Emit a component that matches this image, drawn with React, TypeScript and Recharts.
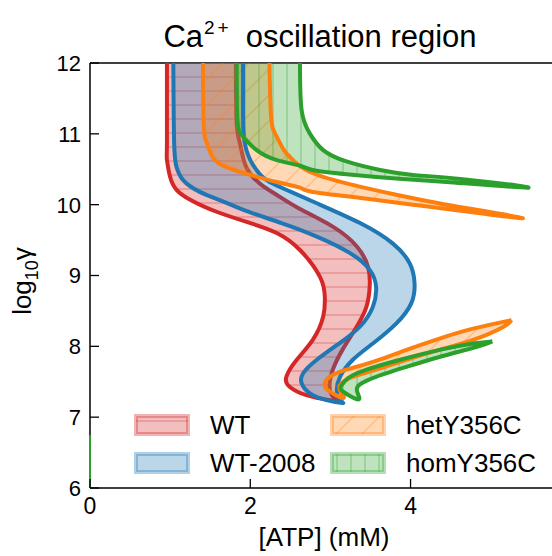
import { ScatterChart, Scatter, XAxis, YAxis, ReferenceLine, Legend } from "recharts";

const FONT = '"Liberation Sans", Arial, Helvetica, sans-serif';
const RED = "#d62728";
const BLUE = "#1f77b4";
const ORANGE = "#ff7f0e";
const GREEN = "#2ca02c";

// WT boundary: left branch from the top down to the cusp, then right branch back up
const wtX = [0.96, 0.96, 0.96, 1.0, 1.08, 1.25, 1.58, 2.0, 2.33, 2.62, 2.87, 2.93, 2.91, 2.78, 2.58, 2.45, 2.49, 2.7, 2.99, 3.14,
  3.05, 2.99, 3.03, 3.15, 3.33, 3.45, 3.49, 3.47, 3.33, 3.03, 2.62, 2.37, 2.14, 1.95, 1.87, 1.83, 1.82];
const wtY = [12.0, 10.87, 10.63, 10.39, 10.21, 10.07, 9.9, 9.74, 9.6, 9.36, 8.98, 8.7, 8.42, 8.09, 7.81, 7.57, 7.43, 7.31, 7.24, 7.22,
  7.27, 7.43, 7.67, 7.95, 8.28, 8.56, 8.84, 9.12, 9.41, 9.69, 9.94, 10.11, 10.28, 10.53, 10.87, 11.15, 12.0];

// WT-2008 boundary
const wt08X = [1.04, 1.05, 1.08, 1.16, 1.37, 1.65, 1.93, 2.39, 2.83, 3.24, 3.49, 3.57, 3.53, 3.37, 3.12, 2.83, 2.66, 2.64, 2.74, 2.95, 3.15,
  3.12, 3.08, 3.12, 3.28, 3.53, 3.82, 4.01, 4.05, 3.99, 3.78, 3.37, 2.83, 2.49, 2.24, 2.12, 2.0, 1.92, 1.91, 1.91];
const wt08Y = [12.0, 10.87, 10.53, 10.35, 10.18, 10.05, 9.92, 9.74, 9.55, 9.32, 9.08, 8.84, 8.56, 8.28, 8.05, 7.81, 7.62, 7.48, 7.34, 7.24, 7.2,
  7.24, 7.38, 7.57, 7.81, 8.04, 8.32, 8.61, 8.89, 9.17, 9.45, 9.74, 10.02, 10.19, 10.32, 10.43, 10.63, 10.96, 11.48, 12.0];

// hetY356C: upper tongue and lower tongue
const hetUpX = [1.41, 1.42, 1.46, 1.53, 1.7, 2.0, 2.33, 2.62, 2.78, 3.41, 4.03, 4.65, 5.4,
  4.45, 3.82, 3.2, 2.7, 2.49, 2.42, 2.32, 2.26, 2.24];
const hetUpY = [12.0, 11.1, 10.87, 10.67, 10.53, 10.42, 10.32, 10.24, 10.18, 10.09, 10.0, 9.91, 9.81,
  10.0, 10.14, 10.3, 10.49, 10.68, 10.77, 10.98, 11.24, 12.0];
const hetLowX = [5.26, 4.78, 4.36, 3.95, 3.53, 3.2, 2.99, 2.93, 2.97, 3.16, 3.12, 3.14, 3.28, 3.57, 3.95, 4.36, 4.78, 5.15, 5.26];
const hetLowY = [8.37, 8.25, 8.11, 7.95, 7.78, 7.67, 7.57, 7.48, 7.38, 7.27, 7.38, 7.48, 7.57, 7.67, 7.81, 7.95, 8.09, 8.27, 8.37];

// homY356C: upper tongue, lower tongue, and the sliver on the axis
const homUpX = [1.83, 1.84, 1.91, 2.08, 2.33, 2.62, 2.78, 3.2, 3.82, 4.45, 5.47,
  4.65, 4.03, 3.62, 3.2, 2.91, 2.74, 2.64, 2.62];
const homUpY = [12.0, 11.2, 10.96, 10.77, 10.63, 10.55, 10.49, 10.43, 10.37, 10.32, 10.24,
  10.36, 10.42, 10.49, 10.61, 10.77, 11.01, 11.34, 12.0];
const homLowX = [5.02, 4.78, 4.36, 3.87, 3.45, 3.22, 3.14, 3.16, 3.35, 3.33, 3.39, 3.57, 3.95, 4.36, 4.82, 5.02];
const homLowY = [8.07, 8.04, 7.95, 7.81, 7.67, 7.55, 7.45, 7.36, 7.25, 7.38, 7.48, 7.57, 7.71, 7.85, 7.99, 8.07];
const homAxisX = [0, 0];
const homAxisY = [6, 6.75];

const xTicks = [0, 2, 4];
const yTicks = [6, 7, 8, 9, 10, 11, 12];

const legendItems = [
  { name: "WT", color: RED, fill: "url(#hatchWT)" },
  { name: "WT-2008", color: BLUE, fill: "url(#hatchWT08)" },
  { name: "hetY356C", color: ORANGE, fill: "url(#hatchHet)" },
  { name: "homY356C", color: GREEN, fill: "url(#hatchHom)" },
];

const toPoints = (xs: number[], ys: number[]) => xs.map((x, i) => ({ x, y: ys[i] }));

const wt = toPoints(wtX, wtY);
const wt08 = toPoints(wt08X, wt08Y);
const hetUp = toPoints(hetUpX, hetUpY);
const hetLow = toPoints(hetLowX, hetLowY);
const homUp = toPoints(homUpX, homUpY);
const homLow = toPoints(homLowX, homLowY);
const homAxis = toPoints(homAxisX, homAxisY);

const noDot = () => <g />;
const CURVE = "natural" as const;

const XTick = ({ x, y, payload }: any) => (
  <g>
    <line x1={x} x2={x} y1={y} y2={y - 9} stroke="#000" strokeWidth={1.3} />
    <text x={x} y={y + 26} textAnchor="middle" fontSize={23} fontFamily={FONT} fill="#000">
      {payload.value}
    </text>
  </g>
);

const YTick = ({ x, y, payload }: any) => (
  <g>
    <line x1={x} x2={x + 9} y1={y} y2={y} stroke="#000" strokeWidth={1.3} />
    <text x={x - 9} y={y} dy="0.36em" textAnchor="end" fontSize={22} fontFamily={FONT} fill="#000">
      {payload.value}
    </text>
  </g>
);

const fillLine = (fill: string) => ({ fill, stroke: "none" });
const edgeLine = (stroke: string) => ({ fill: "none", stroke, strokeWidth: 4, strokeLinejoin: "round" as const });

function LegendBox() {
  return (
    <div
      style={{
        display: "grid",
        gridTemplateColumns: "196px 200px",
        gridTemplateRows: "38px 38px",
        gridAutoFlow: "column",
        fontFamily: FONT,
        fontSize: 26,
        lineHeight: "30px",
      }}
    >
      {legendItems.map((item) => (
        <div key={item.name} style={{ display: "flex", alignItems: "center", whiteSpace: "nowrap" }}>
          <svg width={56} height={22} style={{ marginRight: 20, flex: "none" }}>
            <rect x={2} y={2} width={52} height={18} fill={item.fill} stroke={item.color} strokeOpacity={0.35} strokeWidth={4} />
          </svg>
          <span>{item.name}</span>
        </div>
      ))}
    </div>
  );
}

export default function App() {
  return (
    <div style={{ position: "absolute", left: 0, top: 0, width: 552, height: 556, overflow: "hidden", background: "#fff" }}>
      <div
        style={{
          position: "absolute",
          left: -4,
          top: 20,
          width: 648,
          textAlign: "center",
          fontFamily: FONT,
          fontSize: 31,
          lineHeight: "34px",
          whiteSpace: "nowrap",
        }}
      >
        Ca
        <span style={{ fontSize: 19, position: "relative", top: -13, marginLeft: 1, marginRight: 14, letterSpacing: 3 }}>2+</span>
        oscillation region
      </div>
      <div
        style={{
          position: "absolute",
          left: 25,
          top: 281,
          transform: "translate(-50%, -50%) rotate(-90deg)",
          fontFamily: FONT,
          fontSize: 26,
          whiteSpace: "nowrap",
        }}
      >
        log<sub style={{ fontSize: 18 }}>10</sub>γ
      </div>
      <div style={{ position: "absolute", left: 0, top: 0 }}>
        <ScatterChart width={600} height={556} margin={{ top: 63, right: 42, bottom: 8, left: 30 }}>
          <defs>
            <pattern id="hatchWT" patternUnits="userSpaceOnUse" width={14} height={14}>
              <rect width={14} height={14} fill={RED} fillOpacity={0.3} />
              <line x1={0} x2={14} y1={7} y2={7} stroke={RED} strokeOpacity={0.3} strokeWidth={1.5} />
            </pattern>
            <pattern id="hatchWT08" patternUnits="userSpaceOnUse" width={14} height={14}>
              <rect width={14} height={14} fill={BLUE} fillOpacity={0.3} />
            </pattern>
            <pattern id="hatchHet" patternUnits="userSpaceOnUse" width={26} height={26}>
              <rect width={26} height={26} fill={ORANGE} fillOpacity={0.3} />
              <path d="M0,26 L26,0 M-13,13 L13,-13 M13,39 L39,13" stroke={ORANGE} strokeOpacity={0.3} strokeWidth={1.5} />
            </pattern>
            <pattern id="hatchHom" patternUnits="userSpaceOnUse" width={14} height={14}>
              <rect width={14} height={14} fill={GREEN} fillOpacity={0.3} />
              <line x1={7} x2={7} y1={0} y2={14} stroke={GREEN} strokeOpacity={0.3} strokeWidth={1.5} />
            </pattern>
          </defs>
          <XAxis
            type="number"
            dataKey="x"
            domain={[0, 5.84]}
            ticks={xTicks}
            interval={0}
            height={60}
            tickSize={0}
            tickMargin={0}
            tick={XTick}
            axisLine={{ stroke: "#000", strokeWidth: 1.5 }}
            label={{ value: "[ATP] (mM)", position: "insideBottom", offset: 2, fontSize: 26, fontFamily: FONT, fill: "#000" }}
          />
          <YAxis
            type="number"
            dataKey="y"
            domain={[6, 12]}
            ticks={yTicks}
            interval={0}
            width={60}
            tickSize={0}
            tickMargin={0}
            tick={YTick}
            axisLine={{ stroke: "#000", strokeWidth: 1.5 }}
          />

          <Scatter data={wt} shape={noDot} line={fillLine("url(#hatchWT)")} lineJointType={CURVE} isAnimationActive={false} />
          <Scatter data={wt} shape={noDot} line={edgeLine(RED)} lineJointType={CURVE} isAnimationActive={false} />
          <Scatter data={wt08} shape={noDot} line={fillLine("url(#hatchWT08)")} lineJointType={CURVE} isAnimationActive={false} />
          <Scatter data={hetUp} shape={noDot} line={fillLine("url(#hatchHet)")} lineJointType={CURVE} isAnimationActive={false} />
          <Scatter data={hetLow} shape={noDot} line={fillLine("url(#hatchHet)")} lineJointType={CURVE} isAnimationActive={false} />
          <Scatter data={homUp} shape={noDot} line={fillLine("url(#hatchHom)")} lineJointType={CURVE} isAnimationActive={false} />
          <Scatter data={homLow} shape={noDot} line={fillLine("url(#hatchHom)")} lineJointType={CURVE} isAnimationActive={false} />
          <Scatter data={wt08} shape={noDot} line={edgeLine(BLUE)} lineJointType={CURVE} isAnimationActive={false} />
          <Scatter data={hetUp} shape={noDot} line={edgeLine(ORANGE)} lineJointType={CURVE} isAnimationActive={false} />
          <Scatter data={hetLow} shape={noDot} line={edgeLine(ORANGE)} lineJointType={CURVE} isAnimationActive={false} />
          <Scatter data={homUp} shape={noDot} line={edgeLine(GREEN)} lineJointType={CURVE} isAnimationActive={false} />
          <Scatter data={homLow} shape={noDot} line={edgeLine(GREEN)} lineJointType={CURVE} isAnimationActive={false} />
          <Scatter data={homAxis} shape={noDot} line={{ fill: "none", stroke: GREEN, strokeWidth: 2 }} lineJointType="linear" isAnimationActive={false} />

          <ReferenceLine y={12} stroke="#000" strokeWidth={1.5} />
          <Legend
            layout="horizontal"
            verticalAlign="middle"
            align="center"
            wrapperStyle={{ left: 134, top: 406, width: 410 }}
            content={() => <LegendBox />}
          />
        </ScatterChart>
      </div>
    </div>
  );
}
